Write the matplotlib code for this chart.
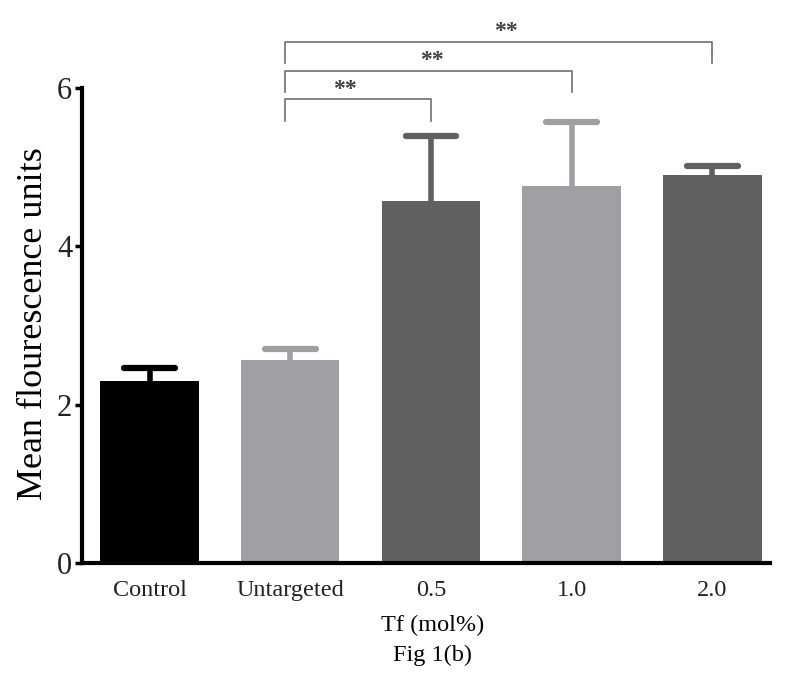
import matplotlib.pyplot as plt
import numpy as np

plt.rcParams['font.family'] = ['Liberation Serif', 'DejaVu Serif']

categories = ['Control', 'Untargeted', '0.5', '1.0', '2.0']
means = [2.30, 2.56, 4.57, 4.77, 4.90]
sem = [0.16, 0.15, 0.83, 0.80, 0.12]
colors = ['#000000', '#a0a0a4', '#606060', '#a0a0a4', '#606060']

# significance comparisons: from, to, bracket height, star x, label
sig_from = [1, 1, 1]
sig_to = [2, 3, 4]
sig_height = [5.86, 6.22, 6.59]
sig_star_x = [1.39, 2.01, 2.53]
sig_label = ['**', '**', '**']

fig = plt.figure(figsize=(8, 6.84), dpi=100)
ax = fig.add_axes([0.1025, 0.177, 0.86, 0.694])

x = np.arange(len(categories))
ax.bar(x, means, width=0.7, color=colors, zorder=2)

# upper-only error bars with caps
tops = np.array(means) + np.array(sem)
ax.vlines(x, means, tops, colors=colors, lw=4, zorder=1)
for xi, t, c in zip(x, tops, colors):
    ax.plot([xi - 0.18, xi + 0.18], [t, t], color=c, lw=4.5,
            solid_capstyle='round', zorder=1)

drop = 0.27
for i, j, h, sx, lab in zip(sig_from, sig_to, sig_height, sig_star_x, sig_label):
    ax.plot([i - 0.04, i - 0.04, j, j], [h - drop, h, h, h - drop],
            color='#707070', lw=1.2, clip_on=False)
    ax.text(sx, h + 0.13, lab, ha='center', va='center', fontsize=17,
            fontweight='bold', color='#404040')

ax.set_xlim(-0.48, 4.41)
ax.set_ylim(0, 6)
ax.set_yticks([0, 2, 4, 6])
ax.set_xticks(x)
ax.set_xticklabels(categories, fontsize=17.5, color='#222222')
ax.tick_params(axis='x', length=0, pad=12)
ax.tick_params(axis='y', labelsize=22, width=2.5, length=5, pad=2, labelcolor='#222222')
ax.set_ylabel('Mean flourescence units', fontsize=26)
ax.yaxis.set_label_coords(-0.047, 0.505)

for s in ['top', 'right']:
    ax.spines[s].set_visible(False)
for s in ['left', 'bottom']:
    ax.spines[s].set_linewidth(3)

fig.text(0.541, 0.086, 'Tf (mol%)', ha='center', va='center', fontsize=17.5)
fig.text(0.541, 0.042, 'Fig 1(b)', ha='center', va='center', fontsize=17.5)

fig.savefig('out.png', dpi=100)
